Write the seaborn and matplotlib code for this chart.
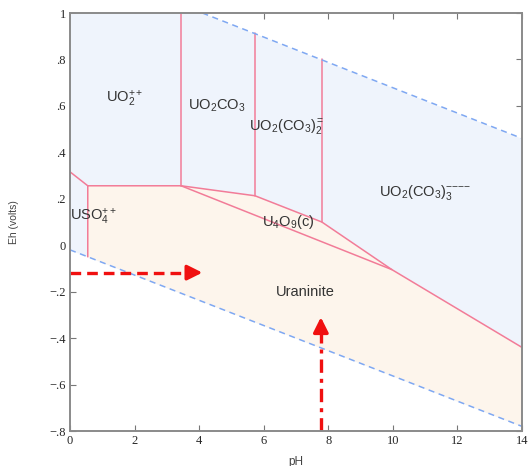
import matplotlib
matplotlib.use("Agg")
import matplotlib.pyplot as plt
import seaborn as sns
import pandas as pd

# water stability limits (blue dashed)
o2_ph = [4.1, 14.0]
o2_eh = [1.0, 0.46]
h2_ph = [0.0, 14.0]
h2_eh = [-0.02, -0.78]

# uraninite + U4O9 top boundary (pink)
ur_ph = [0.55, 0.55, 3.44, 9.97, 14.0]
ur_eh = [-0.05, 0.256, 0.256, -0.105, -0.44]
u4o9_ph = [3.44, 5.73, 7.8, 9.97]
u4o9_eh = [0.256, 0.213, 0.10, -0.105]
uso4_ph = [0.0, 0.55]
uso4_eh = [0.316, 0.256]

# vertical boundaries between uranyl species
vert_ph = [3.44, 5.73, 7.8]
vert_lo = [0.256, 0.213, 0.10]
vert_hi = [1.0, 0.915, 0.80]

# species labels
lab_text = [r"UO$_2^{++}$", r"UO$_2$CO$_3$", r"UO$_2$(CO$_3$)$_2^{=}$",
            r"UO$_2$(CO$_3$)$_3^{{-}{-}{-}{-}}$", r"USO$_4^{++}$", r"U$_4$O$_9$(c)", "Uraninite"]
lab_ph = [1.7, 4.55, 6.7, 11.0, 0.75, 6.75, 7.3]
lab_eh = [0.63, 0.60, 0.51, 0.225, 0.12, 0.10, -0.20]

# arrows
harrow_ph = [0.0, 4.1]
harrow_eh = -0.118
varrow_ph = 7.77
varrow_eh = [-0.8, -0.31]

xticks = [0, 2, 4, 6, 8, 10, 12, 14]
yticks = [1.0, 0.8, 0.6, 0.4, 0.2, 0.0, -0.2, -0.4, -0.6, -0.8]
ytick_labels = ["1", ".8", ".6", ".4", ".2", "0", "\u2212.2", "\u2212.4", "\u2212.6", "\u2212.8"]

sns.set_style("white")
plt.rcParams["font.family"] = ["Liberation Sans", "DejaVu Sans"]
plt.rcParams["mathtext.fontset"] = "custom"
plt.rcParams["mathtext.rm"] = "Liberation Sans"
plt.rcParams["mathtext.it"] = "Liberation Sans"
plt.rcParams["mathtext.bf"] = "Liberation Sans"

fig = plt.figure(figsize=(5.28, 4.66), dpi=100)
ax = fig.add_axes([0.1326, 0.0751, 0.856, 0.897])

blue_fill = "#eff4fc"
peach_fill = "#fdf5ec"
pink = "#f27c98"
blue_dash = "#7fa8f2"
red = "#f01010"

# blue stability field
top_ph = [0.0] + o2_ph
top_eh = [1.0] + o2_eh
bot_eh = [h2_eh[0] + (h2_eh[1] - h2_eh[0]) * p / 14.0 for p in top_ph]
ax.fill_between(top_ph, bot_eh, top_eh, color=blue_fill, lw=0)

# peach (solid phases) field
poly_ph = ur_ph[:3] + u4o9_ph[1:] + [14.0, 14.0]
poly_eh = ur_eh[:3] + u4o9_eh[1:] + [ur_eh[-1], h2_eh[1]]
ax.fill(poly_ph, poly_eh, color=peach_fill, lw=0)

# boundaries
line_kw = dict(color=pink, linewidth=1.1, sort=False, estimator=None, legend=False)
sns.lineplot(x=ur_ph, y=ur_eh, ax=ax, **line_kw)
sns.lineplot(x=u4o9_ph, y=u4o9_eh, ax=ax, **line_kw)
sns.lineplot(x=uso4_ph, y=uso4_eh, ax=ax, **line_kw)
for p, lo, hi in zip(vert_ph, vert_lo, vert_hi):
    sns.lineplot(x=[p, p], y=[lo, hi], ax=ax, **line_kw)

water = pd.DataFrame({"pH": o2_ph + h2_ph, "Eh": o2_eh + h2_eh,
                      "line": ["O2", "O2", "H2", "H2"]})
sns.lineplot(data=water, x="pH", y="Eh", units="line", estimator=None,
             color=blue_dash, linewidth=1.1, ax=ax)
for ln in ax.lines:
    if ln.get_color() == blue_dash:
        ln.set_dashes([4, 3])

for t, x, y in zip(lab_text, lab_ph, lab_eh):
    ha = "left" if t.startswith("USO") else "center"
    xx = 0.0 if ha == "left" else x
    ax.text(xx, y, t, fontsize=10.5, color="#333333", ha=ha, va="center")

# red arrows
ax.plot([harrow_ph[0], harrow_ph[1] - 0.4], [harrow_eh, harrow_eh],
        color=red, lw=2.4, dashes=[3.2, 1.8])
ax.annotate("", xy=(harrow_ph[1], harrow_eh), xytext=(harrow_ph[1] - 0.45, harrow_eh),
            arrowprops=dict(arrowstyle="-|>,head_length=0.9,head_width=0.45",
                            color=red, lw=2.4, shrinkA=0, shrinkB=0))
ax.plot([varrow_ph, varrow_ph], [varrow_eh[0], varrow_eh[1] - 0.05],
        color=red, lw=2.4, dashes=[4, 1.8, 1.2, 1.8])
ax.annotate("", xy=(varrow_ph, varrow_eh[1]), xytext=(varrow_ph, varrow_eh[1] - 0.06),
            arrowprops=dict(arrowstyle="-|>,head_length=0.9,head_width=0.45",
                            color=red, lw=2.4, shrinkA=0, shrinkB=0))

ax.set_xlim(0, 14)
ax.set_ylim(-0.8, 1.0)
ax.set_xticks(xticks)
ax.set_xticklabels([str(v) for v in xticks], family=["Liberation Serif"], fontsize=9)
ax.set_yticks(yticks)
ax.set_yticklabels(ytick_labels, family=["Liberation Serif"], fontsize=9)
ax.tick_params(direction="in", length=4, width=0.8, color="#777777",
               top=True, right=True, bottom=True, left=True, pad=3)
for s in ax.spines.values():
    s.set_color("#8a8a8a")
    s.set_linewidth(1.4)
ax.set_xlabel("pH", fontsize=8.5, color="#444444", labelpad=6)
ax.set_ylabel("Eh (volts)", fontsize=7.5, color="#444444", labelpad=22)

fig.savefig("out.png", dpi=100)
